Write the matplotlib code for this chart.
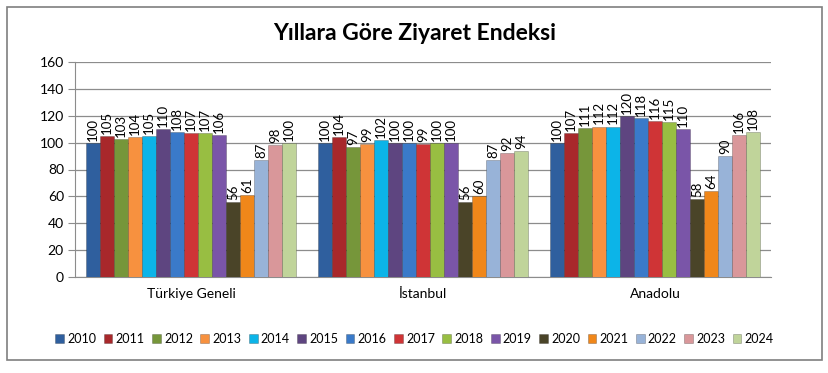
import numpy as np
import matplotlib.pyplot as plt
from matplotlib.patches import Rectangle

plt.rcParams['font.family'] = ['Lato', 'DejaVu Sans']

regions = ["Türkiye Geneli", "İstanbul", "Anadolu"]
years = [str(y) for y in range(2010, 2025)]

turkiye = [100, 105, 103, 104, 105, 110, 108, 107, 107, 106, 56, 61, 87, 98, 100]
istanbul = [100, 104, 97, 99, 102, 100, 100, 99, 100, 100, 56, 60, 87, 92, 94]
anadolu = [100, 107, 111, 112, 112, 120, 118, 116, 115, 110, 58, 64, 90, 106, 108]

colors = ["#2F5F9E", "#A8282B", "#76963A", "#F7913F", "#0CB4E8",
          "#5E4580", "#3A7AC9", "#CF3436", "#98BE42", "#7A55A8",
          "#4A4428", "#F0871A", "#98B3D8", "#D9979A", "#C0D49A"]

values = np.array([turkiye, istanbul, anadolu])

fig = plt.figure(figsize=(8.29, 3.73), dpi=100)
fig.patches.append(Rectangle((7 / 829, 1 - 360 / 373), 815 / 829, 353 / 373,
                             transform=fig.transFigure, fill=False,
                             edgecolor="#7f7f7f", linewidth=1.2))
ax = fig.add_axes([75 / 829, 1 - 277 / 373, 696 / 829, 215 / 373])

n = len(years)
bw = 0.905 / n
x = np.arange(len(regions))
handles = []
for i, yr in enumerate(years):
    pos = x - 0.905 / 2 + bw * (i + 0.5)
    h = ax.bar(pos, values[:, i], width=bw, color=colors[i], edgecolor="#00000040",
               linewidth=0.6, label=yr, zorder=3)
    handles.append(h)
    for p, v in zip(pos, values[:, i]):
        ax.text(p, v + 1.5, str(v), rotation=90, ha="center", va="bottom",
                fontsize=9.5, zorder=4)

ax.set_xlim(-0.5, len(regions) - 0.5)
ax.set_ylim(0, 160)
ax.set_yticks(range(0, 161, 20))
ax.set_xticks(x)
ax.set_xticklabels(regions, fontsize=10)
ax.tick_params(axis="x", length=0, pad=8)
ax.tick_params(axis="y", length=5, color="#8c8c8c", labelsize=10, pad=3)
ax.yaxis.grid(True, color="#8c8c8c", linewidth=0.9, zorder=0)
for s in ["top", "right"]:
    ax.spines[s].set_visible(False)
ax.spines["left"].set_color("#8c8c8c")
ax.spines["bottom"].set_color("#8c8c8c")

fig.text(0.5, 1 - 33 / 373, "Yıllara Göre Ziyaret Endeksi", ha="center", va="center",
         fontsize=16.5, fontweight="bold")

fig.legend(handles=handles, labels=years, loc="center", ncol=n,
           bbox_to_anchor=(0.5, 1 - 339 / 373), frameon=False, fontsize=9,
           handlelength=0.7, handleheight=0.7, handletextpad=0.25,
           columnspacing=0.6)

fig.savefig("out.png", dpi=100)
